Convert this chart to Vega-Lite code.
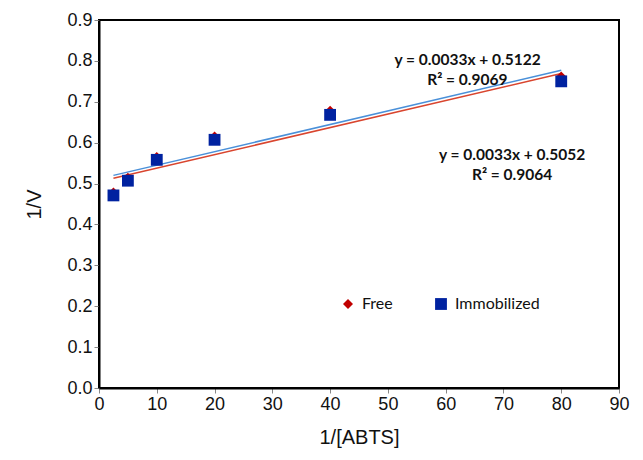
{
  "$schema": "https://vega.github.io/schema/vega-lite/v6.json",
  "autosize": {"type": "none"},
  "padding": {"left": 99, "top": 20, "right": 24, "bottom": 72},
  "width": 520,
  "height": 368,
  "background": "white",
  "config": {
    "view": {"stroke": "black", "strokeWidth": 2},
    "axis": {
      "domainColor": "black", "domainWidth": 2, "tickColor": "#888", "tickSize": 5,
      "labelFont": "Liberation Sans", "labelFontSize": 18, "labelColor": "#111", "labelFlush": false,
      "titleFont": "Liberation Sans", "titleFontSize": 20, "titleFontWeight": "normal", "titleColor": "#111",
      "grid": false
    },
    "legend": {"labelFont": "Lato", "labelFontSize": 16, "labelColor": "#111"}
  },
  "datasets": {
    "pts": [
      {"x": 2.5, "y": 0.478, "series": "Free"},
      {"x": 5, "y": 0.514, "series": "Free"},
      {"x": 10, "y": 0.565, "series": "Free"},
      {"x": 20, "y": 0.615, "series": "Free"},
      {"x": 40, "y": 0.678, "series": "Free"},
      {"x": 80, "y": 0.762, "series": "Free"},
      {"x": 2.5, "y": 0.471, "series": "Immobilized"},
      {"x": 5, "y": 0.507, "series": "Immobilized"},
      {"x": 10, "y": 0.558, "series": "Immobilized"},
      {"x": 20, "y": 0.607, "series": "Immobilized"},
      {"x": 40, "y": 0.668, "series": "Immobilized"},
      {"x": 80, "y": 0.750, "series": "Immobilized"}
    ],
    "trend": [
      {"x": 2.5, "y": 0.513, "series": "Free"},
      {"x": 80, "y": 0.769, "series": "Free"},
      {"x": 2.5, "y": 0.520, "series": "Immobilized"},
      {"x": 80, "y": 0.777, "series": "Immobilized"}
    ],
    "notes": [
      {"x": 63.8, "y": 0.8016, "label": "y = 0.0033x + 0.5122"},
      {"x": 63.75, "y": 0.7526, "label": "R² = 0.9069"},
      {"x": 71.5, "y": 0.5707, "label": "y = 0.0033x + 0.5052"},
      {"x": 71.5, "y": 0.5217, "label": "R² = 0.9064"}
    ]
  },
  "encoding": {
    "x": {"field": "x", "type": "quantitative", "scale": {"domain": [0, 90], "nice": false},
      "axis": {"title": "1/[ABTS]", "values": [0,10,20,30,40,50,60,70,80,90], "titlePadding": 14}},
    "y": {"field": "y", "type": "quantitative", "scale": {"domain": [0, 0.9], "nice": false},
      "axis": {"title": "1/V", "values": [0,0.1,0.2,0.3,0.4,0.5,0.6,0.7,0.8,0.9], "format": ".1f", "titlePadding": 22}}
  },
  "layer": [
    {
      "data": {"name": "trend"},
      "transform": [{"filter": "datum.series === 'Free'"}],
      "mark": {"type": "line", "color": "#D9452E", "strokeWidth": 1.5}
    },
    {
      "data": {"name": "trend"},
      "transform": [{"filter": "datum.series === 'Immobilized'"}],
      "mark": {"type": "line", "color": "#4A90D9", "strokeWidth": 1.5}
    },
    {
      "data": {"name": "pts"},
      "mark": {"type": "point", "filled": true, "opacity": 1},
      "encoding": {
        "color": {"field": "series", "type": "nominal",
          "scale": {"domain": ["Free", "Immobilized"], "range": ["#C00000", "#0022A0"]},
          "legend": {"title": null, "orient": "none", "legendX": 241, "legendY": 276, "direction": "horizontal", "columnPadding": 40, "symbolSize": 55, "labelOffset": 6}},
        "shape": {"field": "series", "type": "nominal",
          "scale": {"domain": ["Free", "Immobilized"], "range": ["diamond", "square"]}},
        "size": {"field": "series", "type": "nominal",
          "scale": {"domain": ["Free", "Immobilized"], "range": [100, 140]}, "legend": null}
      }
    },
    {
      "data": {"name": "notes"},
      "mark": {"type": "text", "font": "Lato", "fontSize": 15.5, "fontWeight": "bold", "color": "#111", "align": "center", "baseline": "middle"},
      "encoding": {"text": {"field": "label"}}
    }
  ]
}
